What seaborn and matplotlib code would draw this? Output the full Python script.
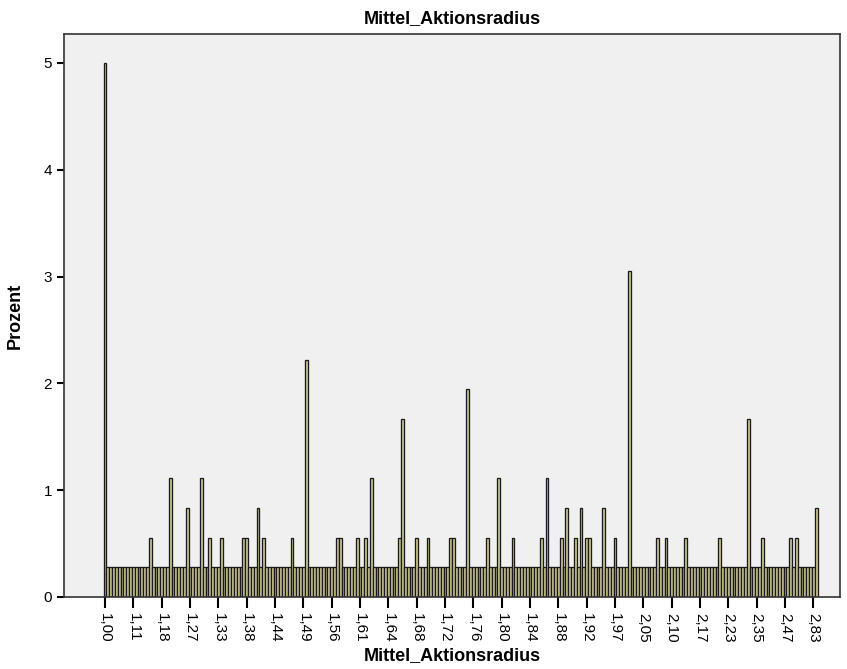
import seaborn as sns
import matplotlib.pyplot as plt
import pandas as pd

counts = [
    18, 1, 1, 1, 1, 1, 1, 1, 1, 1, 1, 1, 1, 1, 1, 1, 2, 1, 1, 1,
    1, 1, 1, 4, 1, 1, 1, 1, 1, 3, 1, 1, 1, 1, 4, 1, 1, 2, 1, 1,
    1, 2, 1, 1, 1, 1, 1, 1, 1, 2, 2, 1, 1, 1, 3, 1, 2, 1, 1, 1,
    1, 1, 1, 1, 1, 1, 2, 1, 1, 1, 1, 8, 1, 1, 1, 1, 1, 1, 1, 1,
    1, 1, 2, 2, 1, 1, 1, 1, 1, 2, 1, 1, 2, 1, 4, 1, 1, 1, 1, 1,
    1, 1, 1, 1, 2, 6, 1, 1, 1, 1, 2, 1, 1, 1, 2, 1, 1, 1, 1, 1,
    1, 1, 2, 2, 1, 1, 1, 1, 7, 1, 1, 1, 1, 1, 1, 2, 1, 1, 1, 4,
    1, 1, 1, 1, 2, 1, 1, 1, 1, 1, 1, 1, 1, 1, 2, 1, 4, 1, 1, 1,
    1, 2, 1, 3, 1, 1, 2, 1, 3, 1, 2, 2, 1, 1, 1, 1, 3, 1, 1, 1,
    2, 1, 1, 1, 1, 11, 1, 1, 1, 1, 1, 1, 1, 1, 1, 2, 1, 1, 2, 1,
    1, 1, 1, 1, 1, 2, 1, 1, 1, 1, 1, 1, 1, 1, 1, 1, 1, 2, 1, 1,
    1, 1, 1, 1, 1, 1, 1, 6, 1, 1, 1, 1, 2, 1, 1, 1, 1, 1, 1, 1,
    1, 1, 2, 1, 2, 1, 1, 1, 1, 1, 1, 3,
]

# beschriftete Kategorien (jede 10. Ausprägung)
tick_labels = ["1,00", "1,11", "1,18", "1,27", "1,33", "1,38", "1,44", "1,49",
               "1,56", "1,61", "1,64", "1,68", "1,72", "1,76", "1,80", "1,84",
               "1,88", "1,92", "1,97", "2,05", "2,10", "2,17", "2,23", "2,35",
               "2,47", "2,83"]

n_total = sum(counts)
df = pd.DataFrame({"kategorie": range(len(counts)),
                   "prozent": [c / n_total * 100 for c in counts]})

plt.rcParams["font.family"] = ["Liberation Sans", "DejaVu Sans"]

fig = plt.figure(figsize=(8.47, 6.69), dpi=100)
ax = fig.add_axes([64 / 847, 1 - 597 / 669, (840 - 64) / 847, (597 - 34) / 669])

sns.barplot(data=df, x="kategorie", y="prozent", color="#D2CC96",
            width=1.0, edgecolor="#1a1a1a", linewidth=0.95, saturation=1,
            native_scale=True, ax=ax)

ax.set_facecolor("#F0F0F0")
ax.set_xlim(-14.5, 259.4)
ax.set_ylim(0, 5.27)
ax.set_yticks([0, 1, 2, 3, 4, 5])
ax.set_xticks(range(0, 10 * len(tick_labels), 10))
ax.set_xticklabels(tick_labels, rotation=270, fontsize=11)
ax.tick_params(axis="y", labelsize=11, length=5, width=1.5)
ax.tick_params(axis="x", length=8, width=1.5)
for s in ax.spines.values():
    s.set_color("#333333")
    s.set_linewidth(1.2)

ax.set_title("Mittel_Aktionsradius", fontsize=13, fontweight="bold", pad=8)
ax.set_xlabel("Mittel_Aktionsradius", fontsize=13, fontweight="bold", labelpad=3)
ax.set_ylabel("Prozent", fontsize=13, fontweight="bold", labelpad=14)

fig.savefig("out.png", dpi=100)
